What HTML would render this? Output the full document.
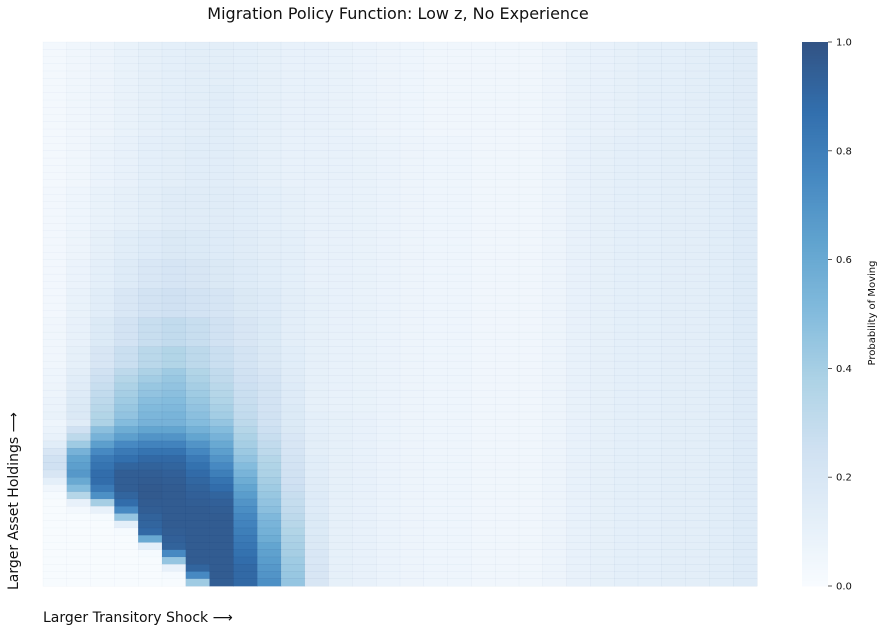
<!DOCTYPE html>
<html><head><meta charset="utf-8"><style>
html,body{margin:0;padding:0;background:#fff;}
svg{display:block;font-family:"DejaVu Sans","Liberation Sans",sans-serif;}
</style></head><body>
<svg id="chart" width="884" height="632" viewBox="0 0 884 632" xmlns="http://www.w3.org/2000/svg">
<text x="398" y="19" font-size="16" text-anchor="middle" fill="#111">Migration Policy Function: Low z, No Experience</text>
<g id="cells"></g>
<g id="cbar"></g>
<text x="43" y="622" font-size="14" fill="#111">Larger Transitory Shock ⟶</text>
<text transform="translate(18,590) rotate(-90)" font-size="14" fill="#111">Larger Asset Holdings ⟶</text>
<text transform="translate(875,313) rotate(-90)" font-size="10" text-anchor="middle" fill="#111">Probability of Moving</text>
</svg>
<script>
// probability of moving (percent); rows top->bottom, columns left->right
const rowsTop = [
[3,5,7,9,11,12,13,13,12,11,10,10,9,8,7,6,5,5,5,5,5,7,9,10,11,12,12,13,14,15],
[3,5,7,9,11,12,13,13,12,11,10,10,9,8,7,6,5,5,5,5,5,7,9,10,11,12,12,13,14,15],
[3,5,7,9,11,12,13,13,12,11,10,10,9,8,7,6,5,5,5,5,5,7,9,10,11,12,12,13,14,15],
[3,5,7,9,11,12,13,13,12,11,10,10,9,8,7,6,5,5,5,5,5,7,9,10,11,12,12,13,14,15],
[3,5,7,9,11,12,13,13,12,11,10,10,9,8,7,6,5,5,5,5,5,7,9,10,11,12,12,13,14,15],
[3,5,7,9,11,12,13,13,12,11,10,10,9,8,7,6,5,5,5,5,5,7,9,10,11,12,12,13,14,15],
[3,5,7,9,11,12,13,14,12,11,10,10,9,8,7,6,5,5,5,5,5,7,9,10,11,12,12,13,14,15],
[3,5,7,9,11,12,13,14,12,11,10,10,9,8,7,6,5,5,5,5,5,7,9,10,11,12,12,13,14,15],
[3,5,7,9,11,12,13,14,12,11,10,10,9,8,7,6,5,5,5,5,5,7,9,10,11,12,12,13,14,15],
[3,5,7,9,11,12,13,14,12,11,10,10,9,8,7,6,5,5,5,5,5,7,9,10,11,12,12,13,14,15],
[3,5,7,9,11,12,13,14,12,11,10,10,9,8,7,6,5,5,5,5,5,7,9,10,11,12,12,13,14,15],
[3,5,7,9,11,12,13,14,12,11,10,10,9,8,7,6,5,5,5,5,5,7,9,10,11,12,12,13,14,15],
[3,5,7,9,11,12,13,14,12,11,10,10,9,8,7,6,5,5,5,5,5,7,9,10,11,12,12,13,14,15],
[3,5,8,10,12,13,14,14,13,11,10,10,10,9,8,7,6,6,5,5,5,7,10,11,12,12,13,13,14,16],
[3,5,8,10,12,13,14,14,13,11,10,10,10,9,8,7,6,6,5,5,5,7,10,11,12,12,13,13,14,16],
[3,5,8,10,12,13,14,14,13,11,10,10,10,9,8,7,6,6,5,5,5,7,10,11,12,12,13,13,14,16],
[3,5,8,10,12,13,14,14,13,11,10,10,10,9,8,7,6,6,5,5,5,7,10,11,12,12,13,13,14,16],
[3,5,8,10,12,13,14,14,13,11,10,10,10,9,8,7,6,6,5,5,5,7,10,11,12,12,13,13,14,16],
[3,5,8,10,12,13,14,14,13,11,10,10,10,9,8,7,6,6,5,5,5,7,10,11,12,12,13,13,14,16],
[3,5,8,10,12,13,14,14,13,11,10,10,10,9,8,7,6,6,5,5,5,7,10,11,12,12,13,13,14,16],
[4,6,9,11,13,15,15,15,14,12,11,10,10,9,8,7,6,6,5,5,5,7,10,11,12,12,13,13,14,16],
[4,6,9,11,13,15,15,15,14,12,11,10,10,9,8,7,6,6,5,5,5,7,10,11,12,12,13,13,14,16],
[4,6,9,11,13,15,15,15,14,12,11,10,10,9,8,7,6,6,5,5,5,7,10,11,12,12,13,13,14,16],
[4,6,9,11,13,15,15,15,14,12,11,10,10,9,8,7,6,6,5,5,5,7,10,11,12,12,13,13,14,16],
[4,6,9,11,13,15,15,15,14,12,11,10,10,9,8,7,6,6,5,5,5,7,10,11,12,12,13,13,14,16],
[4,6,9,11,13,15,15,15,14,12,11,10,10,9,8,7,6,6,5,5,5,7,10,11,12,12,13,13,14,16]
];
const rowsMid = [
[4,7,11,14,16,18,17,16,15,13,12,10,10,9,8,7,6,6,5,5,5,7,10,11,12,12,13,13,14,16],
[4,7,11,14,16,18,17,16,15,13,12,10,10,9,8,7,6,6,5,5,5,7,10,11,12,12,13,13,14,16],
[4,7,11,14,16,18,17,16,15,13,12,10,10,9,8,7,6,6,5,5,5,7,10,11,12,12,13,13,14,16],
[4,7,11,14,16,18,17,16,15,13,12,10,10,9,8,7,6,6,5,5,5,7,10,11,12,12,13,13,14,16],
[4,8,12,16,19,21,20,18,16,14,12,10,10,9,8,7,6,6,5,5,5,7,10,11,12,12,13,13,14,16],
[4,8,12,16,19,21,20,18,16,14,12,10,10,9,8,7,6,6,5,5,5,7,10,11,12,12,13,13,14,16],
[4,8,12,16,19,21,20,18,16,14,12,10,10,9,8,7,6,6,5,5,5,7,10,11,12,12,13,13,14,16],
[4,8,12,16,19,21,20,18,16,14,12,10,10,9,8,7,6,6,5,5,5,7,10,11,12,12,13,13,14,16],
[4,9,14,19,23,25,23,21,18,16,13,11,10,9,8,7,6,6,5,5,5,7,10,11,12,12,13,13,14,16],
[4,9,14,19,23,25,23,21,18,16,13,11,10,9,8,7,6,6,5,5,5,7,10,11,12,12,13,13,14,16],
[4,9,14,19,23,25,23,21,18,16,13,11,10,9,8,7,6,6,5,5,5,7,10,11,12,12,13,13,14,16],
[4,9,14,19,23,25,23,21,18,16,13,11,10,9,8,7,6,6,5,5,5,7,10,11,12,12,13,13,14,16],
[5,10,17,23,28,30,28,24,20,17,13,11,10,9,8,7,6,6,5,5,5,7,10,11,12,12,13,13,14,16],
[5,10,17,23,28,30,28,24,20,17,13,11,10,9,8,7,6,6,5,5,5,7,10,11,12,12,13,13,14,16],
[5,10,17,23,28,30,28,24,20,17,13,11,10,9,8,7,6,6,5,5,5,7,10,11,12,12,13,13,14,16],
[5,10,17,23,28,30,28,24,20,17,13,11,10,9,8,7,6,6,5,5,5,7,10,11,12,12,13,13,14,16],
[5,11,20,27,33,36,32,27,22,18,14,11,10,9,8,7,6,6,5,5,5,7,10,11,12,12,13,13,14,16],
[5,11,20,27,33,36,32,27,22,18,14,11,10,9,8,7,6,6,5,5,5,7,10,11,12,12,13,13,14,16],
[5,11,20,27,33,36,32,27,22,18,14,11,10,9,8,7,6,6,5,5,5,7,10,11,12,12,13,13,14,16],
[6,13,24,32,38,42,36,30,24,20,15,11,10,9,8,7,6,6,5,5,5,7,10,11,12,12,13,13,14,16],
[6,14,26,35,41,44,38,31,25,21,15,11,10,9,8,7,6,6,5,5,5,7,10,11,12,12,13,13,14,16],
[7,15,28,38,44,46,40,33,26,22,16,11,10,9,8,7,6,6,5,5,5,7,10,11,12,12,13,13,14,16],
[7,16,30,40,46,48,42,35,27,22,16,11,10,9,8,7,6,6,5,5,5,7,10,11,12,12,13,13,14,16],
[8,17,32,42,49,50,44,37,28,23,16,11,10,9,8,7,6,6,5,5,5,7,10,11,12,12,13,13,14,16],
[8,18,34,44,51,52,46,39,29,23,17,11,10,9,8,7,6,6,5,5,5,7,10,11,12,12,13,13,14,16],
[9,18,36,46,53,54,48,41,30,24,17,12,11,10,8,7,6,6,5,5,5,7,10,11,12,12,13,13,14,16]
];
const rowsBottom = [
[6,15,38,50,55,55,50,45,32,24,17,12,11,10,8,7,6,6,5,5,5,7,10,11,12,12,13,13,14,16],
[8,25,48,58,62,62,56,50,35,26,18,12,11,10,8,7,6,6,5,5,5,7,10,11,12,12,13,13,14,16],
[10,32,55,65,70,70,62,55,38,28,19,13,11,10,8,7,6,6,5,5,5,7,10,11,12,12,13,13,14,16],
[14,42,65,75,78,78,70,60,40,30,20,13,11,10,8,7,6,6,5,5,5,7,10,11,12,12,13,13,14,16],
[20,55,75,82,85,85,76,65,43,32,21,13,11,10,8,7,6,6,5,5,5,7,10,11,12,12,13,13,14,16],
[24,62,82,87,90,90,82,70,46,35,22,14,11,10,8,7,6,6,5,5,5,7,10,11,12,12,13,13,14,16],
[25,65,85,92,93,92,86,75,50,37,23,14,11,10,8,7,6,6,5,5,5,7,10,11,12,12,13,13,14,16],
[20,68,88,95,95,94,89,80,54,38,24,14,11,10,8,7,6,6,5,5,5,7,10,11,12,12,13,13,14,16],
[12,60,88,95,96,95,91,85,58,40,25,15,11,10,8,7,6,6,5,5,5,7,10,11,12,12,13,13,14,16],
[5,50,82,95,97,96,93,88,62,42,26,15,11,10,8,7,6,6,5,5,5,7,10,11,12,12,13,13,14,16],
[2,35,72,92,97,96,94,92,66,44,28,16,11,10,8,7,6,6,5,5,5,7,10,11,12,12,13,13,14,16],
[1,10,40,88,96,96,95,94,70,46,29,16,11,10,8,7,6,6,5,5,5,7,10,11,12,12,13,13,14,16],
[1,3,10,75,95,96,96,95,73,48,30,16,11,10,8,7,6,6,5,5,5,7,10,11,12,12,13,13,14,16],
[1,1,2,45,93,96,96,96,76,52,32,17,11,10,8,7,6,6,5,5,5,7,10,11,12,12,13,13,14,16],
[1,1,1,12,92,96,96,96,78,54,34,17,11,10,8,7,6,6,5,5,5,7,10,11,12,12,13,13,14,16],
[1,1,1,2,90,95,96,96,80,56,36,17,11,10,8,7,6,6,5,5,5,7,10,11,12,12,13,13,14,16],
[1,1,1,1,60,94,96,96,82,58,38,18,11,10,8,7,6,6,5,5,5,7,10,11,12,12,13,13,14,16],
[1,1,1,1,12,93,96,96,84,62,39,18,11,10,8,7,6,6,5,5,5,7,10,11,12,12,13,13,14,16],
[1,1,1,1,2,75,96,96,86,64,40,19,11,10,8,7,6,6,5,5,5,7,10,11,12,12,13,13,14,16],
[1,1,1,1,1,45,96,96,88,66,42,19,11,10,8,7,6,6,5,5,5,7,10,11,12,12,13,13,14,16],
[1,1,1,1,1,10,92,96,90,68,43,20,11,10,8,7,6,6,5,5,5,7,10,11,12,12,13,13,14,16],
[1,1,1,1,1,2,75,96,90,70,44,20,11,10,8,7,6,6,5,5,5,7,10,11,12,12,13,13,14,16],
[1,1,1,1,1,1,42,95,90,72,45,20,11,10,8,7,6,6,5,5,5,7,10,11,12,12,13,13,14,16]
];
const cbarTickValues = [0, 0.2, 0.4, 0.6, 0.8, 1.0];
const cbarTickLabels = ["0.0", "0.2", "0.4", "0.6", "0.8", "1.0"];

const NS = "http://www.w3.org/2000/svg";
const matrix = rowsTop.concat(rowsMid, rowsBottom);
const plot = {x: 43, y: 42, w: 714, h: 544};
const nRows = matrix.length, nCols = matrix[0].length;
const xCell = c => plot.x + c * plot.w / nCols;
const yCell = r => plot.y + r * plot.h / nRows;

const stops = [[247,251,255],[222,235,247],[198,219,239],[158,202,225],[107,174,214],[66,146,198],[33,113,181],[8,81,156],[8,48,107]];
const ALPHA = 0.83;
function blues(v) {
  v = Math.max(0, Math.min(1, v));
  const t = v * (stops.length - 1), i = Math.min(stops.length - 2, Math.floor(t)), f = t - i;
  const c = stops[i].map((a, k) => a + (stops[i + 1][k] - a) * f);
  const m = c.map(a => Math.round(a * ALPHA + 255 * (1 - ALPHA)));
  return `rgb(${m[0]},${m[1]},${m[2]})`;
}

const cellsG = document.getElementById('cells');
for (let r = 0; r < nRows; r++) {
  for (let c = 0; c < nCols; c++) {
    const v = matrix[r][c] / 100;
    const rect = document.createElementNS(NS, 'rect');
    
    
    const x0 = xCell(c), y0 = yCell(r);
    rect.setAttribute('x', x0);
    rect.setAttribute('y', y0);
    rect.setAttribute('width', xCell(c + 1) - x0 + 0.3);
    rect.setAttribute('height', yCell(r + 1) - y0 + 0.3);
    rect.setAttribute('fill', blues(v));
    rect.setAttribute('stroke', 'rgba(20,60,120,' + (0.05 + 0.2 * v).toFixed(3) + ')');
    rect.setAttribute('stroke-width', '0.4');
    cellsG.appendChild(rect);
  }
}

const cb = {x: 802, y: 42, w: 26, h: 544};
const yCbar = v => cb.y + cb.h * (1 - v);
const cbG = document.getElementById('cbar');
const N = 200;
for (let i = 0; i < N; i++) {
  const v0 = i / N, v1 = (i + 1) / N;
  const rect = document.createElementNS(NS, 'rect');
  
  
  rect.setAttribute('x', cb.x);
  rect.setAttribute('y', yCbar(v1));
  rect.setAttribute('width', cb.w);
  rect.setAttribute('height', yCbar(v0) - yCbar(v1) + 0.4);
  rect.setAttribute('fill', blues((v0 + v1) / 2));
  cbG.appendChild(rect);
}
cbarTickValues.forEach((v, i) => {
  const y = yCbar(v);
  const tick = document.createElementNS(NS, 'line');
  
  
  tick.setAttribute('x1', cb.x + cb.w);
  tick.setAttribute('x2', cb.x + cb.w + 4);
  tick.setAttribute('y1', y);
  tick.setAttribute('y2', y);
  tick.setAttribute('stroke', '#333');
  tick.setAttribute('stroke-width', '0.8');
  cbG.appendChild(tick);
  const t = document.createElementNS(NS, 'text');
  
  
  t.setAttribute('x', cb.x + cb.w + 8);
  t.setAttribute('y', y + 3.5);
  t.setAttribute('font-size', '10');
  t.setAttribute('fill', '#111');
  t.textContent = cbarTickLabels[i];
  cbG.appendChild(t);
});
</script>
</body></html>
